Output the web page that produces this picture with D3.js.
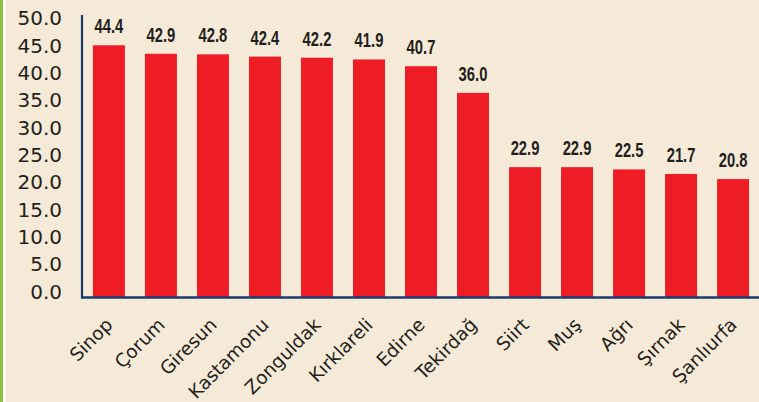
<!DOCTYPE html>
<html><head><meta charset="utf-8">
<script src="https://cdn.jsdelivr.net/npm/d3@7"></script>
<style>
html,body{margin:0;padding:0;background:#F5EAD7;}
svg{display:block;}
</style></head>
<body>
<svg id="c" width="759" height="402"></svg>
<script>
const categories = ["Sinop","Çorum","Giresun","Kastamonu","Zonguldak","Kırklareli","Edirne","Tekirdağ","Siirt","Muş","Ağrı","Şırnak","Şanlıurfa"];
const values = [44.4,42.9,42.8,42.4,42.2,41.9,40.7,36.0,22.9,22.9,22.5,21.7,20.8];
const yTicks = [0,5,10,15,20,25,30,35,40,45,50];

const svg = d3.select("#c");
svg.append("rect").attr("x",0).attr("y",0).attr("width",759).attr("height",402).attr("fill","#F5EAD7");
svg.append("rect").attr("x",0).attr("y",0).attr("width",3).attr("height",402).attr("fill","#8CC63F");
svg.append("rect").attr("x",3).attr("y",0).attr("width",2.5).attr("height",402).attr("fill","#FFFFFF");

const x = d3.scaleBand().domain(categories).range([82,760]).paddingInner(0.385).paddingOuter(0.21);
const y = d3.scaleLinear().domain([0,50]).range([297,13.5]);
const yLab = d3.scaleLinear().domain([0,50]).range([291.5,18]);

// bars
svg.selectAll("rect.bar").data(values).join("rect").attr("class","bar")
  .attr("x",(d,i)=>x(categories[i])).attr("width",x.bandwidth())
  .attr("y",d=>y(d)).attr("height",d=>y(0)-y(d))
  .attr("fill","#EE1D25");

// value labels (condensed)
svg.selectAll("text.val").data(values).join("text").attr("class","val")
  .attr("transform",(d,i)=>`translate(${x(categories[i])+x.bandwidth()/2},${y(d)-12}) scale(0.74,1)`)
  .attr("text-anchor","middle")
  .attr("font-family","'Liberation Sans', Arial, sans-serif")
  .attr("font-weight","bold").attr("font-size",20).attr("fill","#231F20")
  .text(d=>d.toFixed(1));

// y tick labels
svg.selectAll("text.yt").data(yTicks).join("text").attr("class","yt")
  .attr("x",62).attr("y",d=>yLab(d)).attr("dy","0.36em")
  .attr("text-anchor","end")
  .attr("font-family","'DejaVu Sans', sans-serif")
  .attr("font-size",20).attr("fill","#231F20")
  .text(d=>d.toFixed(1));

// axes lines
svg.append("line").attr("x1",82).attr("x2",82).attr("y1",15).attr("y2",298).attr("stroke","#1B3A6F").attr("stroke-width",2.2);
svg.append("line").attr("x1",81).attr("x2",759).attr("y1",297.5).attr("y2",297.5).attr("stroke","#1B3A6F").attr("stroke-width",2.5);

// category labels
svg.selectAll("text.cat").data(categories).join("text").attr("class","cat")
  .attr("transform",d=>`translate(${x(d)+x.bandwidth()/2+5},${326}) rotate(-45)`)
  .attr("text-anchor","end")
  .attr("font-family","'DejaVu Sans', sans-serif")
  .attr("font-size",18.5).attr("fill","#231F20")
  .text(d=>d);
</script>
</body></html>
